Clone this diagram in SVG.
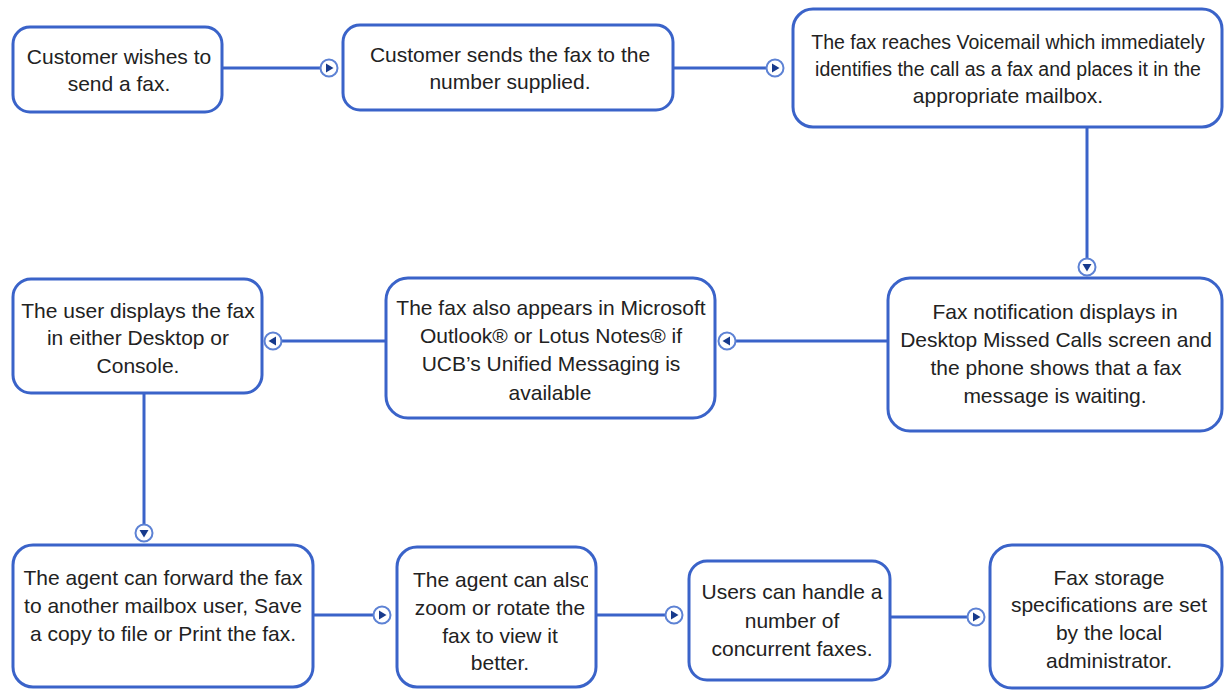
<svg xmlns="http://www.w3.org/2000/svg" width="1225" height="690" viewBox="0 0 1225 690">
<style>
.box{fill:#fff;stroke:#3a63c9;stroke-width:3}
.ln{stroke:#3a63c9;stroke-width:3;fill:none}
.ac{fill:#fff;stroke:#5d82d4;stroke-width:2}
.at{fill:#173a8c}
text{font-family:"Liberation Sans",Arial,sans-serif;font-size:21px;fill:#222;text-anchor:middle}
.sm{font-size:19.5px}
</style>
<defs>
<clipPath id="c8"><rect x="399" y="549" width="189" height="138"/></clipPath>
<g id="arR"><circle class="ac" r="8.5"/><path class="at" d="M-3,-4.5 L4.5,0 L-3,4.5Z"/></g>
<g id="arL"><circle class="ac" r="8.5"/><path class="at" d="M3,-4.5 L-4.5,0 L3,4.5Z"/></g>
<g id="arD"><circle class="ac" r="8.5"/><path class="at" d="M-4.5,-3 L4.5,-3 L0,4.5Z"/></g>
</defs>
<g id="connectors">
<line class="ln" x1="222" y1="68" x2="320" y2="68"/><use href="#arR" x="329" y="68"/>
<line class="ln" x1="673" y1="68" x2="766" y2="68"/><use href="#arR" x="775" y="68"/>
<line class="ln" x1="1087" y1="127" x2="1087" y2="258"/><use href="#arD" x="1087" y="267"/>
<line class="ln" x1="888" y1="341" x2="736" y2="341"/><use href="#arL" x="727" y="341"/>
<line class="ln" x1="386" y1="341" x2="282" y2="341"/><use href="#arL" x="273" y="341"/>
<line class="ln" x1="144" y1="393" x2="144" y2="524"/><use href="#arD" x="144" y="533"/>
<line class="ln" x1="313" y1="615" x2="373" y2="615"/><use href="#arR" x="382" y="615"/>
<line class="ln" x1="596" y1="615" x2="665" y2="615"/><use href="#arR" x="674" y="615"/>
<line class="ln" x1="890" y1="617" x2="967" y2="617"/><use href="#arR" x="976" y="617"/>
</g>
<g id="n1"><rect class="box" x="13" y="27" width="209" height="85" rx="17"/>
<text x="119" y="64">Customer wishes to</text><text x="119" y="91">send a fax.</text></g>
<g id="n2"><rect class="box" x="343" y="25" width="330" height="85" rx="17"/>
<text x="510" y="62">Customer sends the fax to the</text><text x="510" y="89">number supplied.</text></g>
<g id="n3"><rect class="box" x="793" y="9" width="429" height="118" rx="20"/>
<text class="sm" x="1008" y="49">The fax reaches Voicemail which immediately</text>
<text class="sm" x="1008" y="76">identifies the call as a fax and places it in the</text><text x="1008" y="103">appropriate mailbox.</text></g>
<g id="n4"><rect class="box" x="888" y="278" width="334" height="153" rx="22"/>
<text x="1055" y="319">Fax notification displays in</text><text x="1056" y="347">Desktop Missed Calls screen and</text><text x="1056" y="375">the phone shows that a fax</text><text x="1055" y="403">message is waiting.</text></g>
<g id="n5"><rect class="box" x="386" y="278" width="329" height="140" rx="22"/>
<text x="551" y="315">The fax also appears in Microsoft</text><text x="551" y="343">Outlook® or Lotus Notes®  if</text><text x="551" y="371">UCB’s Unified Messaging is</text><text x="550" y="400">available</text></g>
<g id="n6"><rect class="box" x="13" y="279" width="249" height="114" rx="18"/>
<text x="138" y="318">The user displays the fax</text><text x="138" y="345">in either Desktop or</text><text x="138" y="373">Console.</text></g>
<g id="n7"><rect class="box" x="13" y="545" width="300" height="142" rx="20"/>
<text x="163" y="585">The agent can forward the fax</text><text x="163" y="613">to another mailbox user, Save</text><text x="163" y="641">a copy to file or Print the fax.</text></g>
<g id="n8"><rect class="box" x="397" y="547" width="199" height="140" rx="20"/>
<g clip-path="url(#c8)"><text x="413" y="587" style="text-anchor:start">The agent can also</text><text x="500" y="615">zoom or rotate the</text><text x="500" y="643">fax to view it</text><text x="500" y="670">better.</text></g></g>
<g id="n9"><rect class="box" x="689" y="561" width="201" height="119" rx="18"/>
<text x="792" y="599">Users can handle a</text><text x="792" y="628">number of</text><text x="792" y="656">concurrent faxes.</text></g>
<g id="n10"><rect class="box" x="990" y="545" width="232" height="143" rx="22"/>
<text x="1109" y="585">Fax storage</text><text x="1109" y="612">specifications are set</text><text x="1109" y="640">by the local</text><text x="1109" y="668">administrator.</text></g>
</svg>
